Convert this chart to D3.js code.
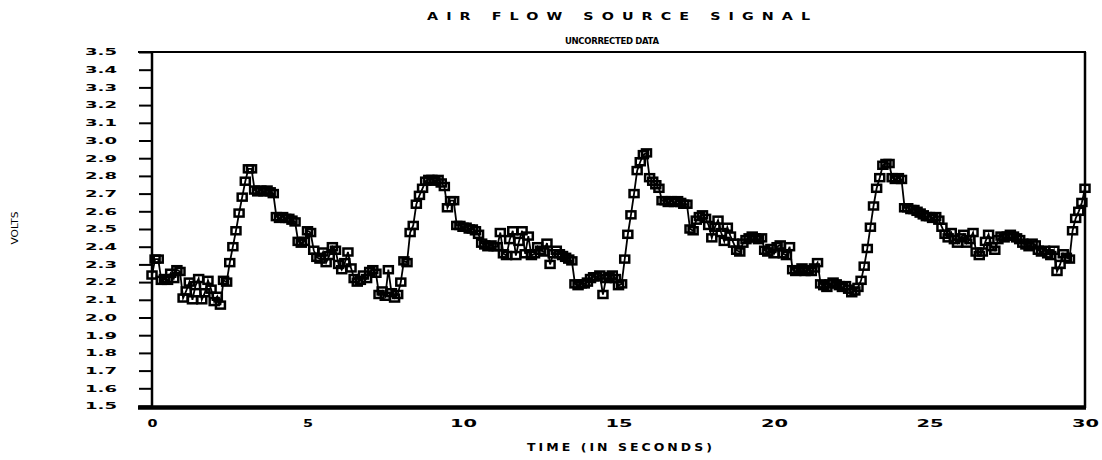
<!DOCTYPE html>
<html><head><meta charset="utf-8">
<script src="https://cdn.jsdelivr.net/npm/d3@7"></script>
<style>html,body{margin:0;padding:0;background:#fff;} svg{display:block;}</style>
</head><body><svg id="c" width="1102" height="460"></svg>
<script>
const chartTitle = "AIR FLOW SOURCE SIGNAL";
const chartSubtitle = "UNCORRECTED DATA";
const xTitle = "TIME (IN SECONDS)";
const yTitle = "VOLTS";
const xTicks = [0, 5, 10, 15, 20, 25, 30];
const yTicks = [3.5, 3.4, 3.3, 3.2, 3.1, 3.0, 2.9, 2.8, 2.7, 2.6, 2.5, 2.4, 2.3, 2.2, 2.1, 2.0, 1.9, 1.8, 1.7, 1.6, 1.5];
const timeStep = 0.1; // seconds between samples, first sample at t = 0
const volts = [
  2.24, 2.33, 2.33, 2.21, 2.22, 2.21, 2.25, 2.22, 2.27, 2.26,
  2.11, 2.15, 2.20, 2.10, 2.18, 2.22, 2.10, 2.14, 2.21, 2.16,
  2.09, 2.12, 2.07, 2.21, 2.20, 2.31, 2.40, 2.49, 2.59, 2.68,
  2.77, 2.84, 2.84, 2.72, 2.71, 2.72, 2.71, 2.72, 2.71, 2.70,
  2.57, 2.56, 2.57, 2.56, 2.56, 2.55, 2.54, 2.43, 2.42, 2.43,
  2.49, 2.48, 2.38, 2.34, 2.33, 2.37, 2.31, 2.35, 2.40, 2.38,
  2.30, 2.27, 2.31, 2.37, 2.28, 2.22, 2.20, 2.21, 2.24, 2.22,
  2.26, 2.27, 2.25, 2.13, 2.15, 2.12, 2.27, 2.14, 2.11, 2.13,
  2.20, 2.32, 2.31, 2.48, 2.52, 2.64, 2.69, 2.73, 2.77, 2.78,
  2.78, 2.77, 2.78, 2.76, 2.74, 2.62, 2.66, 2.66, 2.52, 2.52,
  2.51, 2.51, 2.50, 2.50, 2.49, 2.47, 2.42, 2.41, 2.40, 2.41,
  2.40, 2.40, 2.48, 2.36, 2.35, 2.44, 2.49, 2.35, 2.43, 2.49,
  2.36, 2.46, 2.35, 2.36, 2.40, 2.38, 2.37, 2.42, 2.30, 2.36,
  2.38, 2.36, 2.35, 2.34, 2.33, 2.32, 2.19, 2.18, 2.19, 2.19,
  2.20, 2.22, 2.23, 2.23, 2.24, 2.13, 2.22, 2.23, 2.24, 2.22,
  2.18, 2.19, 2.33, 2.47, 2.58, 2.70, 2.83, 2.88, 2.92, 2.93,
  2.79, 2.77, 2.75, 2.73, 2.66, 2.66, 2.65, 2.66, 2.65, 2.66,
  2.65, 2.64, 2.64, 2.50, 2.49, 2.55, 2.57, 2.58, 2.56, 2.52,
  2.45, 2.51, 2.55, 2.48, 2.43, 2.51, 2.46, 2.42, 2.38, 2.37,
  2.42, 2.44, 2.45, 2.46, 2.45, 2.44, 2.45, 2.38, 2.37, 2.39,
  2.36, 2.40, 2.41, 2.36, 2.35, 2.40, 2.27, 2.26, 2.27, 2.28,
  2.26, 2.27, 2.26, 2.28, 2.31, 2.19, 2.18, 2.17, 2.19, 2.20,
  2.19, 2.18, 2.17, 2.18, 2.16, 2.14, 2.15, 2.17, 2.21, 2.29,
  2.39, 2.51, 2.63, 2.73, 2.79, 2.86, 2.87, 2.87, 2.79, 2.78,
  2.79, 2.78, 2.62, 2.62, 2.61, 2.61, 2.60, 2.59, 2.58, 2.57,
  2.57, 2.56, 2.57, 2.55, 2.51, 2.47, 2.45, 2.48, 2.44, 2.42,
  2.45, 2.47, 2.42, 2.44, 2.48, 2.37, 2.35, 2.37, 2.43, 2.47,
  2.40, 2.38, 2.44, 2.46, 2.45, 2.46, 2.47, 2.46, 2.45, 2.44,
  2.42, 2.41, 2.40, 2.42, 2.41, 2.38, 2.37, 2.38, 2.36, 2.35,
  2.38, 2.26, 2.30, 2.36, 2.34, 2.33, 2.49, 2.56, 2.60, 2.65,
  2.73
];

const svg = d3.select("#c");
const FONT = "'DejaVu Sans', 'Liberation Sans', sans-serif";
const x = d3.scaleLinear().domain([0, 30]).range([152, 1085]);
const y = d3.scaleLinear().domain([1.5, 3.5]).range([406, 52]);
const data = volts.map((v, i) => ({t: +(i * timeStep).toFixed(2), v}));

// Wide plotter-style text: glyphs stretched horizontally, spacing fitted to a width
function wideText(txt, left, baseline, size, width, sx) {
  svg.append("g").attr("transform", `translate(${left},${baseline}) scale(${sx},1)`)
    .append("text").attr("x", 0).attr("y", 0)
    .attr("font-family", FONT).attr("font-weight", "bold").attr("font-size", size)
    .attr("fill", "#000")
    .attr("textLength", width / sx).attr("lengthAdjust", "spacing").text(txt);
}
wideText(chartTitle, 427, 20, 11, 383, 1.3);
wideText(chartSubtitle, 565, 44, 8.5, 94, 1.0);
wideText(xTitle, 527, 451, 10, 185, 1.25);

svg.append("text").attr("transform", "translate(18,228) rotate(-90)")
  .attr("text-anchor", "middle").attr("font-family", FONT).attr("font-size", 9)
  .attr("textLength", 33).attr("lengthAdjust", "spacingAndGlyphs").text(yTitle);

// Y axis
const yAxis = svg.append("g").attr("transform", "translate(152,0)")
  .call(d3.axisLeft(y).tickValues(yTicks).tickSize(13).tickPadding(22).tickFormat(d3.format(".1f")));
yAxis.select(".domain").remove();
yAxis.selectAll(".tick line").attr("stroke", "#000").attr("stroke-width", 2);
yAxis.selectAll(".tick text").attr("font-family", FONT).attr("font-weight", "bold")
  .attr("font-size", 9).attr("fill", "#000")
  .attr("textLength", 32).attr("lengthAdjust", "spacingAndGlyphs");

// X axis
const xAxis = svg.append("g").attr("transform", "translate(0,406)")
  .call(d3.axisBottom(x).tickValues(xTicks).tickSize(0).tickPadding(14).tickFormat(d3.format("d")));
xAxis.select(".domain").remove();
xAxis.selectAll(".tick text").attr("font-family", FONT).attr("font-weight", "bold")
  .attr("font-size", 10).attr("fill", "#000")
  .attr("textLength", d => String(d).length === 1 ? 10 : 27)
  .attr("lengthAdjust", "spacingAndGlyphs");

// Frame
const frame = svg.append("g").attr("stroke", "#000").attr("fill", "none");
frame.append("line").attr("x1", 138).attr("x2", 1086).attr("y1", y(3.5)).attr("y2", y(3.5)).attr("stroke-width", 2);
frame.append("line").attr("x1", x(30)).attr("x2", x(30)).attr("y1", y(3.5)).attr("y2", y(1.5) + 2).attr("stroke-width", 2.5);
frame.append("line").attr("x1", x(0)).attr("x2", x(0)).attr("y1", y(3.5)).attr("y2", y(1.5) + 3).attr("stroke-width", 2.5);
frame.append("line").attr("x1", 138).attr("x2", 1086).attr("y1", y(1.5) + 1.5).attr("y2", y(1.5) + 1.5).attr("stroke-width", 4.5);

// Series line
svg.append("path").datum(data)
  .attr("fill", "none").attr("stroke", "#000").attr("stroke-width", 1.8)
  .attr("d", d3.line().x(d => x(d.t)).y(d => y(d.v)));

// Markers (open rectangles)
svg.append("g").selectAll("rect").data(data).join("rect")
  .attr("x", d => x(d.t) - 4.5).attr("y", d => y(d.v) - 3.5)
  .attr("width", 9).attr("height", 7)
  .attr("fill", "none").attr("stroke", "#000").attr("stroke-width", 2.5);
</script></body></html>
